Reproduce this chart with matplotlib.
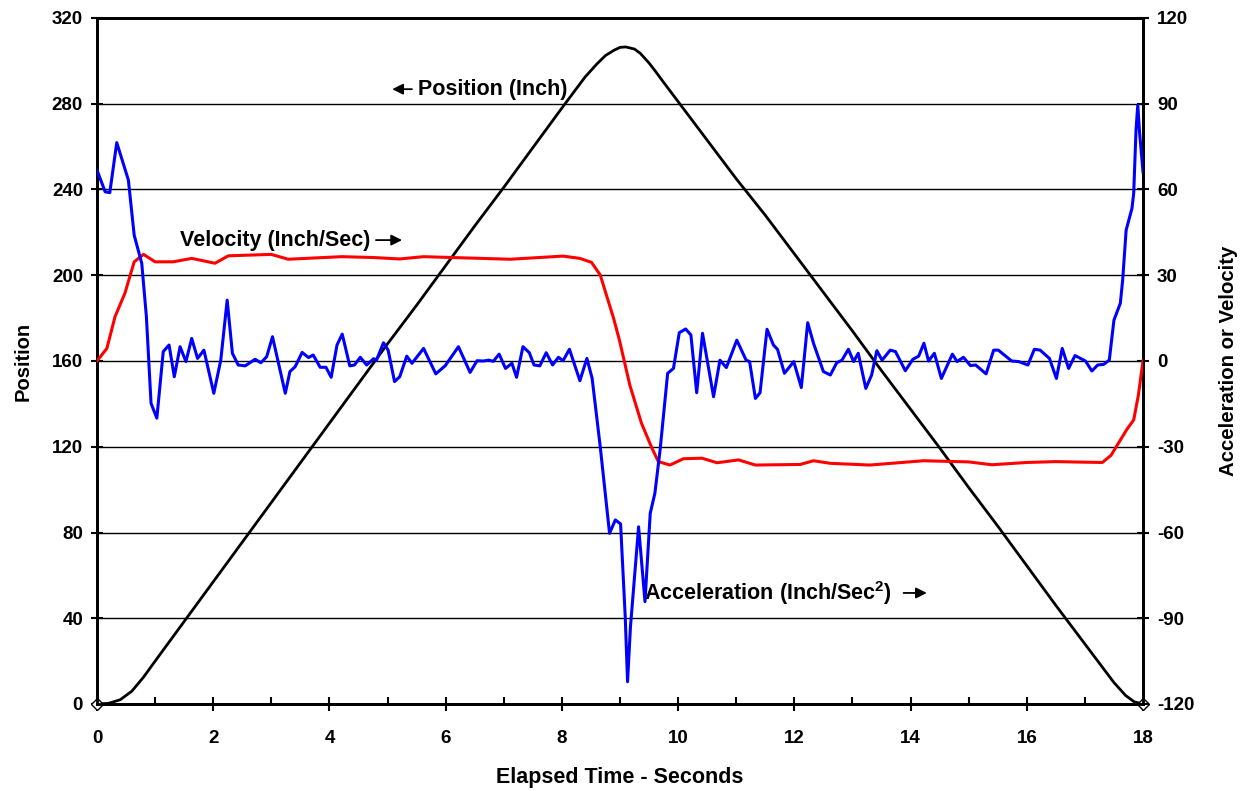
import matplotlib
matplotlib.use("Agg")
import matplotlib.pyplot as plt
from matplotlib.ticker import MultipleLocator

plt.rcParams['font.family'] = ['Liberation Sans', 'DejaVu Sans']
plt.rcParams['font.weight'] = 'bold'
plt.rcParams['mathtext.fontset'] = 'custom'
plt.rcParams['mathtext.rm'] = 'Liberation Sans'
plt.rcParams['mathtext.bf'] = 'Liberation Sans:bold'

# ---- data ----
t_pos = [0, 0.2, 0.4, 0.6, 0.8, 1.0, 1.5, 2.0, 2.5, 3.0, 3.5, 4.0, 4.5, 5.0, 5.5,
         6.0, 6.5, 7.0, 7.5, 8.0, 8.4, 8.6, 8.75, 8.9, 9.0, 9.1, 9.25, 9.35, 9.5,
         9.6, 9.75, 10.0, 10.5, 11.0, 11.5, 12.0, 12.5, 13.0, 13.5, 14.0, 14.5,
         15.0, 15.5, 16.0, 16.5, 17.0, 17.5, 17.7, 17.85, 18.0]
position = [0, 0.3, 2, 6, 12.5, 20, 38.5, 57, 75.5, 94, 112.5, 131, 149.5, 168, 186,
            204.5, 223, 241, 259.5, 278, 292.5, 298.5, 302.5, 305, 306.3, 306.5, 305.5,
            303.5, 299, 295.5, 290, 281, 263, 245, 228, 210, 192, 174, 155.5, 137.5,
            119.5, 101, 83, 64.5, 46, 28, 10, 4, 1, 0]

t_vel = [0, 0.17, 0.31, 0.48, 0.64, 0.8, 1.0, 1.31, 1.63, 2.03, 2.26, 3.0, 3.29,
         4.21, 4.76, 5.21, 5.62, 7.11, 8.02, 8.31, 8.51, 8.66, 8.89, 8.99, 9.17,
         9.37, 9.55, 9.66, 9.86, 10.09, 10.41, 10.67, 11.04, 11.33, 12.1, 12.33,
         12.62, 13.3, 14.22, 15.0, 15.4, 16.0, 16.5, 17.0, 17.3, 17.45, 17.6,
         17.72, 17.84, 17.92, 18.0]
velocity = [0, 4.4, 15.5, 23.7, 34.7, 37.3, 34.7, 34.7, 35.9, 34.2, 36.8, 37.3, 35.6,
            36.5, 36.2, 35.7, 36.5, 35.6, 36.7, 35.9, 34.5, 30.1, 14.9, 7.3, -8.5,
            -21.8, -30.5, -35.2, -36.4, -34.2, -34, -35.6, -34.6, -36.4, -36.2, -34.9,
            -35.8, -36.4, -34.9, -35.3, -36.3, -35.5, -35.2, -35.4, -35.5, -33, -28,
            -24, -20.6, -12, 0]

t_acc = [0.0, 0.14, 0.22, 0.34, 0.54, 0.64, 0.77, 0.85, 0.93, 1.03, 1.14, 1.24, 1.33,
         1.43, 1.53, 1.63, 1.73, 1.84, 2.01, 2.13, 2.24, 2.33, 2.43, 2.55, 2.72, 2.82,
         2.92, 3.02, 3.24, 3.32, 3.41, 3.53, 3.64, 3.72, 3.84, 3.94, 4.03, 4.13, 4.22,
         4.35, 4.43, 4.53, 4.64, 4.76, 4.81, 4.93, 5.01, 5.12, 5.21, 5.33, 5.42, 5.62,
         5.83, 5.99, 6.22, 6.42, 6.54, 6.65, 6.74, 6.82, 6.92, 7.03, 7.14, 7.22, 7.33,
         7.44, 7.52, 7.62, 7.73, 7.84, 7.94, 8.02, 8.13, 8.31, 8.43, 8.52, 8.66, 8.82,
         8.92, 9.01, 9.09, 9.13, 9.18, 9.32, 9.43, 9.52, 9.6, 9.69, 9.82, 9.92, 10.02,
         10.13, 10.22, 10.32, 10.42, 10.61, 10.72, 10.83, 11.01, 11.17, 11.23, 11.33,
         11.41, 11.53, 11.64, 11.71, 11.83, 11.99, 12.12, 12.23, 12.33, 12.5, 12.62,
         12.73, 12.82, 12.93, 13.02, 13.1, 13.23, 13.33, 13.42, 13.51, 13.65, 13.74,
         13.91, 14.04, 14.14, 14.23, 14.31, 14.41, 14.53, 14.72, 14.8, 14.91, 15.03,
         15.12, 15.3, 15.43, 15.51, 15.74, 15.86, 16.02, 16.13, 16.23, 16.39, 16.51,
         16.61, 16.72, 16.83, 17.01, 17.12, 17.22, 17.32, 17.42, 17.5, 17.61, 17.65,
         17.71, 17.81, 17.84, 17.88, 17.91, 17.94, 18.0]
acceleration = [66.8, 59.2, 58.9, 76.4, 63.3, 44, 34.2, 15.5, -14.8, -20, 3.3, 5.6, -5.5,
                5, -0.2, 7.9, 0.9, 3.8, -11.3, 0.3, 21.3, 2.7, -1.4, -1.7, 0.6, -0.6,
                1.5, 8.5, -11.3, -3.7, -2, 3, 1.2, 2.1, -2.2, -2.2, -5.7, 5.6, 9.4,
                -1.7, -1.4, 1.3, -1.4, 0.8, 0.3, 6.4, 3.8, -7.2, -5.5, 1.7, -0.8, 4.4,
                -4.5, -1.7, 5, -4, 0.1, 0, 0.3, -0.1, 2.4, -2.6, -0.8, -5.7, 5,
                2.9, -1.4, -1.7, 2.9, -1.4, 1.3, 0.1, 4.1, -6.9, 0.9, -6.0, -30, -60.3,
                -55.6, -57, -89.5, -112.2, -93, -58, -84.2, -53.3, -46.3, -31.1, -4.3, -2.6, 9.9,
                11.2, 9.1, -11.1, 9.7, -12.5, 0.3, -2.3, 7.3, 0.3, -0.2, -13.1,
                -11.1, 11.1, 5.6, 4.1, -4.3, -0.2, -9.3, 13.4, 6.2, -3.7, -4.9,
                -0.6, 0.3, 4.1, -0.2, 2.7, -9.6, -4.9, 3.6, 0.3, 3.8, 3.3,
                -3.4, 0.6, 1.7, 6.2, 0, 2.7, -6.1, 2.4, -0.2, 1.3, -1.6,
                -1.4, -4.5, 3.8, 3.8, 0, -0.2, -1.4, 4.1, 3.8, 0.9, -6.1,
                4.4, -2.6, 1.9, 0, -3.5, -1.4, -1.2, 0.3, 14.3, 20.2, 28.3,
                45.8, 53.4, 58.7, 80.8, 89.6, 80.2, 66.2]

x_ticks = [0, 2, 4, 6, 8, 10, 12, 14, 16, 18]
left_ticks = [0, 40, 80, 120, 160, 200, 240, 280, 320]
right_ticks = [-120, -90, -60, -30, 0, 30, 60, 90, 120]

# ---- figure ----
fig = plt.figure(figsize=(12.44, 7.91), dpi=100)
ax = fig.add_axes([97/1244, 1 - 704/791, (1143-97)/1244, (704-18)/791])
ax2 = ax.twinx()

ax.set_xlim(0, 18)
ax.set_ylim(0, 320)
ax2.set_ylim(-120, 120)

for y in left_ticks[1:-1]:
    ax.axhline(y, color='black', lw=1.0, zorder=1)

ax.plot(t_pos, position, color='black', lw=2.0, zorder=3)
ax.plot([0, 18], [0, 0], linestyle='none', marker='D', markersize=6,
        markerfacecolor='white', markeredgecolor='black', markeredgewidth=1,
        zorder=5, clip_on=False)

ax2.plot(t_vel, velocity, color='#ff0000', lw=2.2, zorder=3)
ax2.plot(t_acc, acceleration, color='#0000ff', lw=2.2, zorder=4)

ax.set_xticks(x_ticks)
ax.xaxis.set_minor_locator(MultipleLocator(1))
ax.set_yticks(left_ticks)
ax2.set_yticks(right_ticks)

tick_font = dict(fontsize=13.5, fontweight='bold')
ax.set_xticklabels([str(v) for v in x_ticks], **tick_font)
ax.set_yticklabels([str(v) for v in left_ticks], **tick_font)
ax2.set_yticklabels([str(v) for v in right_ticks], **tick_font)

ax.tick_params(axis='x', which='major', direction='inout', length=10, width=1.5, pad=14)
ax.tick_params(axis='x', which='minor', direction='in', length=5, width=1.5)
ax.tick_params(axis='y', which='major', direction='inout', length=8, width=1.5, pad=6)
ax2.tick_params(axis='y', which='major', direction='inout', length=8, width=1.5, pad=6)

for a in (ax, ax2):
    for s in a.spines.values():
        s.set_linewidth(2.0)
        s.set_color('black')

ax.set_xlabel('Elapsed Time - Seconds', fontsize=15.5, fontweight='bold', labelpad=14)
ax.set_ylabel('Position', fontsize=14.5, fontweight='bold', labelpad=14)
ax2.set_ylabel('Acceleration or Velocity', fontsize=14.7, fontweight='bold', labelpad=18)

txt = dict(fontsize=15.5, fontweight='bold', va='center', ha='left', zorder=6)
arrow = dict(arrowstyle='-|>', color='black', lw=1.3, mutation_scale=16,
             shrinkA=0, shrinkB=0)

ax.text(5.52, 286.8, 'Position (Inch)', **txt)
ax.annotate('', xy=(5.08, 286.8), xytext=(5.42, 286.8), arrowprops=arrow)

ax.text(1.43, 216.4, 'Velocity (Inch/Sec)', **txt)
ax.annotate('', xy=(5.25, 216.4), xytext=(4.80, 216.4), arrowprops=arrow)

ax.text(9.42, 51.8, r'Acceleration (Inch/Sec$^{\mathbf{2}}$)', **txt)
ax.annotate('', xy=(14.28, 51.8), xytext=(13.88, 51.8), arrowprops=arrow)

fig.savefig('out.png', dpi=100)
